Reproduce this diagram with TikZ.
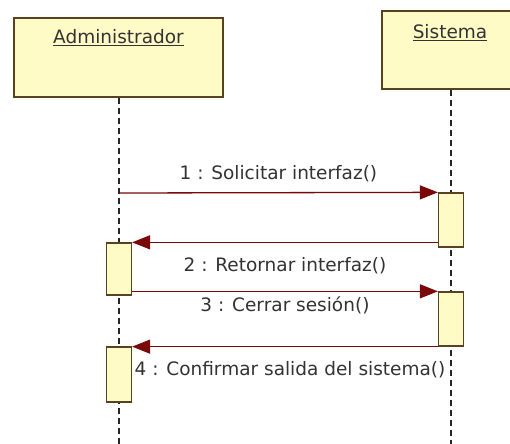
\documentclass[tikz,border=0pt]{standalone}
\usepackage{fontspec}
\setmainfont{DejaVu Sans}
\usepackage{tikz}
\usetikzlibrary{arrows.meta, positioning, calc}

\definecolor{headfill}{HTML}{FFFBC6}
\definecolor{headline}{HTML}{5A4220}
\definecolor{msgline}{HTML}{7A0808}
\definecolor{msgtext}{HTML}{333333}

\begin{document}
\begin{tikzpicture}[
    x=1bp, y=-1bp,
    head/.style={
        rectangle, draw=headline, fill=headfill,
        line width=1.3bp, inner sep=0pt
    },
    title/.style={
        inner sep=0pt, text=msgtext,
        font=\fontsize{18.5bp}{22bp}\selectfont
    },
    act/.style={
        rectangle, draw=headline, fill=headfill,
        line width=1.3bp, minimum width=25bp, inner sep=0pt
    },
    life/.style={line width=1.4bp, dash pattern=on 6bp off 4bp, black!85},
    msg/.style={
        draw=msgline, line width=1.3bp,
        -{Triangle[length=18bp, width=14bp, fill=msgline]}
    },
    lbl/.style={
        inner sep=0pt, text=msgtext,
        font=\fontsize{18.5bp}{22bp}\selectfont
    }
]

\clip (0,0) rectangle (510,444);
\fill[white] (0,0) rectangle (510,444);

% --- Administrador (left head) ---
\node[head, minimum width=209bp, minimum height=79bp] (A) at (118.5,57.5) {};
\node[title, below=12bp of A.north] (At) {\underline{Administrador}};

% --- Sistema (right head, runs past the border) ---
\node[head, minimum width=160bp, minimum height=78bp] (S) at (462,50) {};
\node[title, below=14bp of S.north, xshift=-12bp] (St) {\underline{Sistema}};

% --- lifelines ---
\coordinate (Aend) at (119,444);
\coordinate (Send) at (451,444);
\draw[life] (A.south -| Aend) -- (Aend);
\draw[life] (S.south -| Send) -- (Send);

% --- activations ---
\node[act, minimum height=54bp] (S1) at (451,220) {};
\node[act, minimum height=52bp] (A1) at (119,269) {};
\node[act, minimum height=54bp] (S2) at (451,319) {};
\node[act, minimum height=55bp] (A2) at (119,374.5) {};

% --- messages ---
\coordinate (m1) at (119,193);
\draw[msg] (m1) -- (S1.north west)
    node[lbl, midway, above=10bp] (L1) {1 : Solicitar interfaz()};
\draw[msg] (S1.west |- A1.north) -- (A1.north east)
    node[lbl, midway, below=14bp] (L2) {2 : Retornar interfaz()};
\draw[msg] (A1.east |- S2.north) -- (S2.north west)
    node[lbl, midway, below=5bp] (L3) {3 : Cerrar sesión()};
\draw[msg] (S2.south west) -- (A2.north east |- S2.south)
    node[lbl, midway, below=14bp, xshift=5bp] (L4) {4 : Confirmar salida del sistema()};

\end{tikzpicture}
\end{document}
